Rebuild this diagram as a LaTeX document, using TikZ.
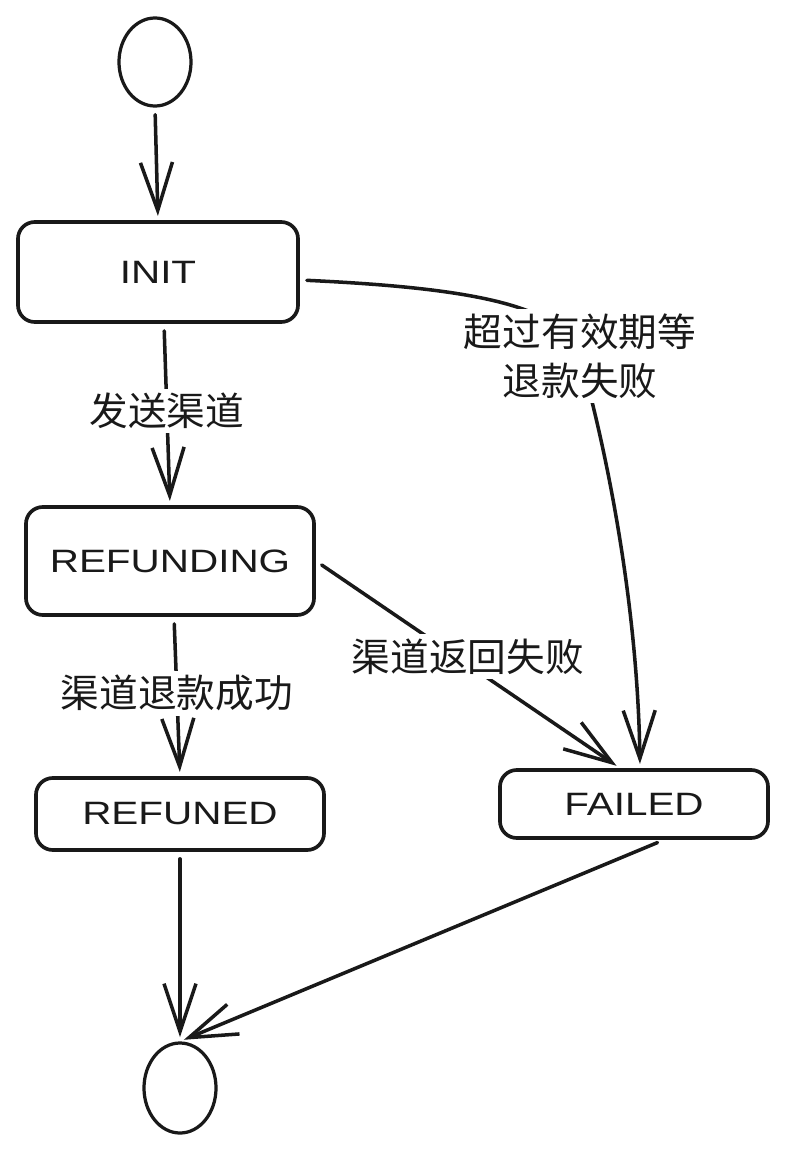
\documentclass[tikz,border=0pt]{standalone}
\usepackage{fontspec}
\setmainfont{Liberation Sans}
\newfontfamily\hand[FakeStretch=1.25]{Liberation Sans}
\newfontfamily\cjk{Noto Sans CJK SC}
\usetikzlibrary{arrows.meta}
\usetikzlibrary{positioning}
\usetikzlibrary{shapes.geometric}
\tikzset{state/.style = {draw = black!90, line width = 2.6pt, rounded corners = 12pt,
                         font = \hand\fontsize{23}{27}\selectfont, text = black!90},
         pseudo/.style = {draw = black!90, ellipse, line width = 2.3pt, inner sep = 0pt},
         trans/.style = {draw = black!90, line width = 2.5pt, line cap = round, line join = round,
                         -{Straight Barb[length = 1.2cm, width = 0.8cm, line width = 2.5pt]},
                         shorten <= 5pt, shorten >= 3pt},
         lbl/.style = {fill = white, text = black!90, inner sep = 3pt, align = center,
                       font = \cjk\fontsize{27.5}{35}\selectfont}}
\begin{document}
\begin{tikzpicture}[x = 0.025cm, y = -0.025cm]
      \useasboundingbox (0, 0) rectangle (788, 1150);
      \node [pseudo, minimum width = 1.8cm, minimum height = 2.2cm] (start) at (155, 62) {};
      \node [state, minimum width = 7cm, minimum height = 2.5cm] (init) at (158, 272) {INIT};
      \node [state, minimum width = 7.2cm, minimum height = 2.7cm] (refunding) at (170, 561) {REFUNDING};
      \node [state, minimum width = 7.2cm, minimum height = 1.8cm] (refuned) at (180, 814) {REFUNED};
      \node [state, minimum width = 6.7cm, minimum height = 1.7cm] (failed) at (634, 804) {FAILED};
      \node [pseudo, minimum width = 1.8cm, minimum height = 2.25cm] (stop) at (180, 1088) {};
      \draw [trans] (start.south) -- (init.north);
      \draw [trans] ([xshift = 0.15cm] init.south) -- node [lbl, pos = 0.48] {发送渠道} (refunding.north);
      \draw [trans] ([xshift = 0.1cm] refunding.south) -- node [lbl, pos = 0.48] {渠道退款成功} (refuned.north);
      \draw [trans] ([yshift = -0.2cm] init.east) .. controls (470, 288) and (565, 305)
            .. (580, 356) node [lbl] {超过有效期等\\退款失败}
            .. controls (612, 470) and (638, 620) .. ([xshift = 0.15cm] failed.north);
      \draw [trans] (refunding.east) -- node [lbl, pos = 0.5, yshift = 0.2cm] {渠道返回失败} ([xshift = -0.35cm] failed.north);
      \draw [trans] (refuned.south) -- (stop.north);
      \draw [trans] ([xshift = 0.75cm] failed.south) -- (stop.north);
    \end{tikzpicture}
\end{document}
